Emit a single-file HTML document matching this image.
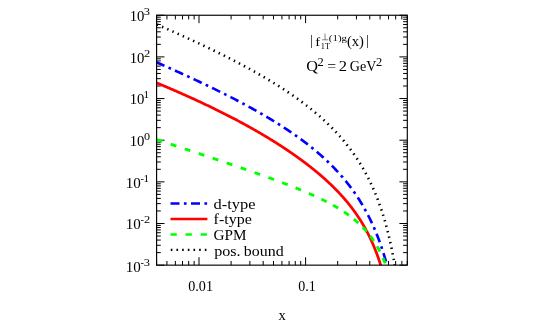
<!DOCTYPE html>
<html><head><meta charset="utf-8"><title>plot</title>
<style>html,body{margin:0;padding:0;background:#fff;}body{width:545px;height:327px;overflow:hidden;font-family:"Liberation Serif",serif;}</style></head>
<body>
<svg width="545" height="327" viewBox="0 0 545 327" style="display:block">
<rect width="545" height="327" fill="#fff"/>
<defs><clipPath id="c"><rect x="156.60" y="15.25" width="250.70" height="249.90"/></clipPath></defs>
<path d="M156.60,265.15v-4.20M156.60,15.25v4.20M166.93,265.15v-4.20M166.93,15.25v4.20M175.37,265.15v-4.20M175.37,15.25v4.20M182.50,265.15v-4.20M182.50,15.25v4.20M188.68,265.15v-4.20M188.68,15.25v4.20M194.14,265.15v-4.20M194.14,15.25v4.20M199.01,265.15v-7.90M199.01,15.25v7.90M231.10,265.15v-4.20M231.10,15.25v4.20M249.87,265.15v-4.20M249.87,15.25v4.20M263.18,265.15v-4.20M263.18,15.25v4.20M273.51,265.15v-4.20M273.51,15.25v4.20M281.95,265.15v-4.20M281.95,15.25v4.20M289.09,265.15v-4.20M289.09,15.25v4.20M295.27,265.15v-4.20M295.27,15.25v4.20M300.72,265.15v-4.20M300.72,15.25v4.20M305.60,265.15v-7.90M305.60,15.25v7.90M337.68,265.15v-4.20M337.68,15.25v4.20M356.45,265.15v-4.20M356.45,15.25v4.20M369.76,265.15v-4.20M369.76,15.25v4.20M380.09,265.15v-4.20M380.09,15.25v4.20M388.53,265.15v-4.20M388.53,15.25v4.20M395.67,265.15v-4.20M395.67,15.25v4.20M401.85,265.15v-4.20M401.85,15.25v4.20M407.30,265.15v-4.20M407.30,15.25v4.20M156.60,265.15h7.90M407.30,265.15h-7.90M156.60,252.61h4.20M407.30,252.61h-4.20M156.60,245.28h4.20M407.30,245.28h-4.20M156.60,240.07h4.20M407.30,240.07h-4.20M156.60,236.04h4.20M407.30,236.04h-4.20M156.60,232.74h4.20M407.30,232.74h-4.20M156.60,229.95h4.20M407.30,229.95h-4.20M156.60,227.54h4.20M407.30,227.54h-4.20M156.60,225.41h4.20M407.30,225.41h-4.20M156.60,223.50h7.90M407.30,223.50h-7.90M156.60,210.96h4.20M407.30,210.96h-4.20M156.60,203.63h4.20M407.30,203.63h-4.20M156.60,198.42h4.20M407.30,198.42h-4.20M156.60,194.39h4.20M407.30,194.39h-4.20M156.60,191.09h4.20M407.30,191.09h-4.20M156.60,188.30h4.20M407.30,188.30h-4.20M156.60,185.89h4.20M407.30,185.89h-4.20M156.60,183.76h4.20M407.30,183.76h-4.20M156.60,181.85h7.90M407.30,181.85h-7.90M156.60,169.31h4.20M407.30,169.31h-4.20M156.60,161.98h4.20M407.30,161.98h-4.20M156.60,156.77h4.20M407.30,156.77h-4.20M156.60,152.74h4.20M407.30,152.74h-4.20M156.60,149.44h4.20M407.30,149.44h-4.20M156.60,146.65h4.20M407.30,146.65h-4.20M156.60,144.24h4.20M407.30,144.24h-4.20M156.60,142.11h4.20M407.30,142.11h-4.20M156.60,140.20h7.90M407.30,140.20h-7.90M156.60,127.66h4.20M407.30,127.66h-4.20M156.60,120.33h4.20M407.30,120.33h-4.20M156.60,115.12h4.20M407.30,115.12h-4.20M156.60,111.09h4.20M407.30,111.09h-4.20M156.60,107.79h4.20M407.30,107.79h-4.20M156.60,105.00h4.20M407.30,105.00h-4.20M156.60,102.59h4.20M407.30,102.59h-4.20M156.60,100.46h4.20M407.30,100.46h-4.20M156.60,98.55h7.90M407.30,98.55h-7.90M156.60,86.01h4.20M407.30,86.01h-4.20M156.60,78.68h4.20M407.30,78.68h-4.20M156.60,73.47h4.20M407.30,73.47h-4.20M156.60,69.44h4.20M407.30,69.44h-4.20M156.60,66.14h4.20M407.30,66.14h-4.20M156.60,63.35h4.20M407.30,63.35h-4.20M156.60,60.94h4.20M407.30,60.94h-4.20M156.60,58.81h4.20M407.30,58.81h-4.20M156.60,56.90h7.90M407.30,56.90h-7.90M156.60,44.36h4.20M407.30,44.36h-4.20M156.60,37.03h4.20M407.30,37.03h-4.20M156.60,31.82h4.20M407.30,31.82h-4.20M156.60,27.79h4.20M407.30,27.79h-4.20M156.60,24.49h4.20M407.30,24.49h-4.20M156.60,21.70h4.20M407.30,21.70h-4.20M156.60,19.29h4.20M407.30,19.29h-4.20M156.60,17.16h4.20M407.30,17.16h-4.20M156.60,15.25h7.90M407.30,15.25h-7.90" stroke="#000" stroke-width="1" fill="none"/>
<g clip-path="url(#c)" fill="none">
<path d="M156.60,24.37 L157.10,24.58 L157.59,24.80 L158.09,25.02 L158.59,25.23 L159.09,25.45 L159.58,25.67 L160.08,25.88 L160.58,26.10 L161.07,26.32 L161.57,26.54 L162.07,26.75 L162.57,26.97 L163.06,27.19 L163.56,27.41 L164.06,27.63 L164.55,27.85 L165.05,28.06 L165.55,28.28 L166.04,28.50 L166.54,28.72 L167.04,28.94 L167.54,29.16 L168.03,29.38 L168.53,29.60 L169.03,29.82 L169.52,30.04 L170.02,30.26 L170.52,30.48 L171.02,30.70 L171.51,30.93 L172.01,31.15 L172.51,31.37 L173.00,31.59 L173.50,31.81 L174.00,32.03 L174.50,32.26 L174.99,32.48 L175.49,32.70 L175.99,32.92 L176.48,33.15 L176.98,33.37 L177.48,33.59 L177.98,33.82 L178.47,34.04 L178.97,34.26 L179.47,34.49 L179.96,34.71 L180.46,34.94 L180.96,35.16 L181.46,35.39 L181.95,35.61 L182.45,35.84 L182.95,36.06 L183.44,36.29 L183.94,36.51 L184.44,36.74 L184.93,36.97 L185.43,37.19 L185.93,37.42 L186.43,37.65 L186.92,37.88 L187.42,38.10 L187.92,38.33 L188.41,38.56 L188.91,38.79 L189.41,39.02 L189.91,39.24 L190.40,39.47 L190.90,39.70 L191.40,39.93 L191.89,40.16 L192.39,40.39 L192.89,40.62 L193.39,40.85 L193.88,41.08 L194.38,41.31 L194.88,41.54 L195.37,41.78 L195.87,42.01 L196.37,42.24 L196.87,42.47 L197.36,42.70 L197.86,42.94 L198.36,43.17 L198.85,43.40 L199.35,43.64 L199.85,43.87 L200.35,44.10 L200.84,44.34 L201.34,44.57 L201.84,44.81 L202.33,45.04 L202.83,45.28 L203.33,45.51 L203.82,45.75 L204.32,45.98 L204.82,46.22 L205.32,46.46 L205.81,46.69 L206.31,46.93 L206.81,47.17 L207.30,47.41 L207.80,47.64 L208.30,47.88 L208.80,48.12 L209.29,48.36 L209.79,48.60 L210.29,48.84 L210.78,49.08 L211.28,49.32 L211.78,49.56 L212.28,49.80 L212.77,50.04 L213.27,50.28 L213.77,50.53 L214.26,50.77 L214.76,51.01 L215.26,51.25 L215.76,51.50 L216.25,51.74 L216.75,51.98 L217.25,52.23 L217.74,52.47 L218.24,52.72 L218.74,52.96 L219.23,53.21 L219.73,53.45 L220.23,53.70 L220.73,53.95 L221.22,54.19 L221.72,54.44 L222.22,54.69 L222.71,54.94 L223.21,55.19 L223.71,55.43 L224.21,55.68 L224.70,55.93 L225.20,56.18 L225.70,56.43 L226.19,56.68 L226.69,56.94 L227.19,57.19 L227.69,57.44 L228.18,57.69 L228.68,57.94 L229.18,58.20 L229.67,58.45 L230.17,58.70 L230.67,58.96 L231.17,59.21 L231.66,59.47 L232.16,59.72 L232.66,59.98 L233.15,60.24 L233.65,60.49 L234.15,60.75 L234.65,61.01 L235.14,61.27 L235.64,61.53 L236.14,61.78 L236.63,62.04 L237.13,62.30 L237.63,62.56 L238.12,62.83 L238.62,63.09 L239.12,63.35 L239.62,63.61 L240.11,63.87 L240.61,64.14 L241.11,64.40 L241.60,64.67 L242.10,64.93 L242.60,65.20 L243.10,65.46 L243.59,65.73 L244.09,65.99 L244.59,66.26 L245.08,66.53 L245.58,66.80 L246.08,67.07 L246.58,67.34 L247.07,67.61 L247.57,67.88 L248.07,68.15 L248.56,68.42 L249.06,68.69 L249.56,68.96 L250.06,69.24 L250.55,69.51 L251.05,69.78 L251.55,70.06 L252.04,70.33 L252.54,70.61 L253.04,70.89 L253.54,71.16 L254.03,71.44 L254.53,71.72 L255.03,72.00 L255.52,72.28 L256.02,72.56 L256.52,72.84 L257.01,73.12 L257.51,73.40 L258.01,73.69 L258.51,73.97 L259.00,74.25 L259.50,74.54 L260.00,74.82 L260.49,75.11 L260.99,75.40 L261.49,75.69 L261.99,75.97 L262.48,76.26 L262.98,76.55 L263.48,76.84 L263.97,77.13 L264.47,77.42 L264.97,77.72 L265.47,78.01 L265.96,78.30 L266.46,78.60 L266.96,78.89 L267.45,79.19 L267.95,79.49 L268.45,79.78 L268.95,80.08 L269.44,80.38 L269.94,80.68 L270.44,80.98 L270.93,81.28 L271.43,81.59 L271.93,81.89 L272.42,82.19 L272.92,82.50 L273.42,82.80 L273.92,83.11 L274.41,83.42 L274.91,83.72 L275.41,84.03 L275.90,84.34 L276.40,84.65 L276.90,84.97 L277.40,85.28 L277.89,85.59 L278.39,85.91 L278.89,86.22 L279.38,86.54 L279.88,86.85 L280.38,87.17 L280.88,87.49 L281.37,87.81 L281.87,88.13 L282.37,88.45 L282.86,88.78 L283.36,89.10 L283.86,89.43 L284.36,89.75 L284.85,90.08 L285.35,90.41 L285.85,90.74 L286.34,91.07 L286.84,91.40 L287.34,91.73 L287.84,92.06 L288.33,92.40 L288.83,92.73 L289.33,93.07 L289.82,93.41 L290.32,93.75 L290.82,94.09 L291.31,94.43 L291.81,94.77 L292.31,95.12 L292.81,95.46 L293.30,95.81 L293.80,96.16 L294.30,96.50 L294.79,96.85 L295.29,97.21 L295.79,97.56 L296.29,97.91 L296.78,98.27 L297.28,98.62 L297.78,98.98 L298.27,99.34 L298.77,99.70 L299.27,100.06 L299.77,100.43 L300.26,100.79 L300.76,101.16 L301.26,101.53 L301.75,101.90 L302.25,102.27 L302.75,102.64 L303.25,103.01 L303.74,103.39 L304.24,103.76 L304.74,104.14 L305.23,104.52 L305.73,104.90 L306.23,105.29 L306.73,105.67 L307.22,106.06 L307.72,106.45 L308.22,106.84 L308.71,107.23 L309.21,107.62 L309.71,108.02 L310.20,108.41 L310.70,108.81 L311.20,109.21 L311.70,109.61 L312.19,110.02 L312.69,110.42 L313.19,110.83 L313.68,111.24 L314.18,111.65 L314.68,112.07 L315.18,112.48 L315.67,112.90 L316.17,113.32 L316.67,113.74 L317.16,114.17 L317.66,114.59 L318.16,115.02 L318.66,115.45 L319.15,115.88 L319.65,116.32 L320.15,116.76 L320.64,117.20 L321.14,117.64 L321.64,118.08 L322.14,118.53 L322.63,118.98 L323.13,119.43 L323.63,119.88 L324.12,120.34 L324.62,120.80 L325.12,121.26 L325.61,121.73 L326.11,122.19 L326.61,122.66 L327.11,123.13 L327.60,123.61 L328.10,124.09 L328.60,124.57 L329.09,125.05 L329.59,125.54 L330.09,126.03 L330.59,126.52 L331.08,127.02 L331.58,127.52 L332.08,128.02 L332.57,128.52 L333.07,129.03 L333.57,129.54 L334.07,130.06 L334.56,130.58 L335.06,131.10 L335.56,131.62 L336.05,132.15 L336.55,132.69 L337.05,133.22 L337.55,133.76 L338.04,134.31 L338.54,134.85 L339.04,135.41 L339.53,135.96 L340.03,136.52 L340.53,137.09 L341.03,137.65 L341.52,138.23 L342.02,138.80 L342.52,139.38 L343.01,139.97 L343.51,140.56 L344.01,141.15 L344.50,141.75 L345.00,142.36 L345.50,142.96 L346.00,143.58 L346.49,144.20 L346.99,144.82 L347.49,145.45 L347.98,146.08 L348.48,146.72 L348.98,147.37 L349.48,148.02 L349.97,148.68 L350.47,149.34 L350.97,150.01 L351.46,150.68 L351.96,151.36 L352.46,152.05 L352.96,152.74 L353.45,153.44 L353.95,154.15 L354.45,154.86 L354.94,155.58 L355.44,156.31 L355.94,157.05 L356.44,157.79 L356.93,158.54 L357.43,159.29 L357.93,160.06 L358.42,160.83 L358.92,161.61 L359.42,162.40 L359.92,163.20 L360.41,164.01 L360.91,164.82 L361.41,165.65 L361.90,166.48 L362.40,167.32 L362.90,168.18 L363.39,169.04 L363.89,169.91 L364.39,170.80 L364.89,171.69 L365.38,172.60 L365.88,173.51 L366.38,174.44 L366.87,175.38 L367.37,176.34 L367.87,177.30 L368.37,178.28 L368.86,179.27 L369.36,180.27 L369.86,181.29 L370.35,182.32 L370.85,183.37 L371.35,184.43 L371.85,185.50 L372.34,186.59 L372.84,187.70 L373.34,188.83 L373.83,189.97 L374.33,191.13 L374.83,192.31 L375.33,193.50 L375.82,194.72 L376.32,195.95 L376.82,197.21 L377.31,198.48 L377.81,199.78 L378.31,201.10 L378.80,202.45 L379.30,203.82 L379.80,205.21 L380.30,206.63 L380.79,208.07 L381.29,209.54 L381.79,211.04 L382.28,212.57 L382.78,214.13 L383.28,215.72 L383.78,217.35 L384.27,219.01 L384.77,220.70 L385.27,222.43 L385.76,224.20 L386.26,226.01 L386.76,227.86 L387.26,229.75 L387.75,231.69 L388.25,233.68 L388.75,235.71 L389.24,237.80 L389.74,239.93 L390.24,242.13 L390.74,244.39 L391.23,246.70 L391.73,249.08 L392.23,251.53 L392.72,254.06 L393.22,256.66 L393.72,259.34 L394.22,262.10 L394.71,264.95 L395.21,267.90 L395.71,270.95 L396.20,274.11 L396.70,277.38" stroke="#000" stroke-width="2.6" stroke-dasharray="1.4 4.27" stroke-dashoffset="5.42"/>
<path d="M156.60,62.32 L157.10,62.54 L157.59,62.76 L158.09,62.98 L158.59,63.20 L159.09,63.42 L159.58,63.64 L160.08,63.86 L160.58,64.08 L161.07,64.30 L161.57,64.52 L162.07,64.74 L162.57,64.96 L163.06,65.18 L163.56,65.40 L164.06,65.62 L164.55,65.84 L165.05,66.06 L165.55,66.29 L166.04,66.51 L166.54,66.73 L167.04,66.95 L167.54,67.17 L168.03,67.39 L168.53,67.62 L169.03,67.84 L169.52,68.06 L170.02,68.28 L170.52,68.51 L171.02,68.73 L171.51,68.95 L172.01,69.18 L172.51,69.40 L173.00,69.62 L173.50,69.85 L174.00,70.07 L174.50,70.30 L174.99,70.52 L175.49,70.75 L175.99,70.97 L176.48,71.20 L176.98,71.42 L177.48,71.65 L177.98,71.87 L178.47,72.10 L178.97,72.32 L179.47,72.55 L179.96,72.78 L180.46,73.00 L180.96,73.23 L181.46,73.46 L181.95,73.68 L182.45,73.91 L182.95,74.14 L183.44,74.36 L183.94,74.59 L184.44,74.82 L184.93,75.05 L185.43,75.28 L185.93,75.51 L186.43,75.73 L186.92,75.96 L187.42,76.19 L187.92,76.42 L188.41,76.65 L188.91,76.88 L189.41,77.11 L189.91,77.34 L190.40,77.57 L190.90,77.80 L191.40,78.03 L191.89,78.26 L192.39,78.50 L192.89,78.73 L193.39,78.96 L193.88,79.19 L194.38,79.42 L194.88,79.66 L195.37,79.89 L195.87,80.12 L196.37,80.35 L196.87,80.59 L197.36,80.82 L197.86,81.06 L198.36,81.29 L198.85,81.52 L199.35,81.76 L199.85,81.99 L200.35,82.23 L200.84,82.46 L201.34,82.70 L201.84,82.94 L202.33,83.17 L202.83,83.41 L203.33,83.64 L203.82,83.88 L204.32,84.12 L204.82,84.36 L205.32,84.59 L205.81,84.83 L206.31,85.07 L206.81,85.31 L207.30,85.55 L207.80,85.79 L208.30,86.03 L208.80,86.26 L209.29,86.50 L209.79,86.74 L210.29,86.99 L210.78,87.23 L211.28,87.47 L211.78,87.71 L212.28,87.95 L212.77,88.19 L213.27,88.43 L213.77,88.68 L214.26,88.92 L214.76,89.16 L215.26,89.41 L215.76,89.65 L216.25,89.89 L216.75,90.14 L217.25,90.38 L217.74,90.63 L218.24,90.87 L218.74,91.12 L219.23,91.37 L219.73,91.61 L220.23,91.86 L220.73,92.11 L221.22,92.35 L221.72,92.60 L222.22,92.85 L222.71,93.10 L223.21,93.35 L223.71,93.60 L224.21,93.85 L224.70,94.09 L225.20,94.35 L225.70,94.60 L226.19,94.85 L226.69,95.10 L227.19,95.35 L227.69,95.60 L228.18,95.85 L228.68,96.11 L229.18,96.36 L229.67,96.61 L230.17,96.87 L230.67,97.12 L231.17,97.38 L231.66,97.63 L232.16,97.89 L232.66,98.14 L233.15,98.40 L233.65,98.66 L234.15,98.91 L234.65,99.17 L235.14,99.43 L235.64,99.69 L236.14,99.95 L236.63,100.21 L237.13,100.47 L237.63,100.73 L238.12,100.99 L238.62,101.25 L239.12,101.51 L239.62,101.77 L240.11,102.03 L240.61,102.30 L241.11,102.56 L241.60,102.83 L242.10,103.09 L242.60,103.35 L243.10,103.62 L243.59,103.89 L244.09,104.15 L244.59,104.42 L245.08,104.69 L245.58,104.95 L246.08,105.22 L246.58,105.49 L247.07,105.76 L247.57,106.03 L248.07,106.30 L248.56,106.57 L249.06,106.84 L249.56,107.12 L250.06,107.39 L250.55,107.66 L251.05,107.93 L251.55,108.21 L252.04,108.48 L252.54,108.76 L253.04,109.03 L253.54,109.31 L254.03,109.59 L254.53,109.87 L255.03,110.14 L255.52,110.42 L256.02,110.70 L256.52,110.98 L257.01,111.26 L257.51,111.54 L258.01,111.83 L258.51,112.11 L259.00,112.39 L259.50,112.68 L260.00,112.96 L260.49,113.24 L260.99,113.53 L261.49,113.82 L261.99,114.10 L262.48,114.39 L262.98,114.68 L263.48,114.97 L263.97,115.26 L264.47,115.55 L264.97,115.84 L265.47,116.13 L265.96,116.43 L266.46,116.72 L266.96,117.01 L267.45,117.31 L267.95,117.60 L268.45,117.90 L268.95,118.20 L269.44,118.49 L269.94,118.79 L270.44,119.09 L270.93,119.39 L271.43,119.69 L271.93,119.99 L272.42,120.30 L272.92,120.60 L273.42,120.90 L273.92,121.21 L274.41,121.52 L274.91,121.82 L275.41,122.13 L275.90,122.44 L276.40,122.75 L276.90,123.06 L277.40,123.37 L277.89,123.68 L278.39,123.99 L278.89,124.31 L279.38,124.62 L279.88,124.94 L280.38,125.25 L280.88,125.57 L281.37,125.89 L281.87,126.21 L282.37,126.53 L282.86,126.85 L283.36,127.17 L283.86,127.50 L284.36,127.82 L284.85,128.15 L285.35,128.47 L285.85,128.80 L286.34,129.13 L286.84,129.46 L287.34,129.79 L287.84,130.12 L288.33,130.45 L288.83,130.79 L289.33,131.12 L289.82,131.46 L290.32,131.79 L290.82,132.13 L291.31,132.47 L291.81,132.81 L292.31,133.16 L292.81,133.50 L293.30,133.84 L293.80,134.19 L294.30,134.54 L294.79,134.88 L295.29,135.23 L295.79,135.58 L296.29,135.94 L296.78,136.29 L297.28,136.64 L297.78,137.00 L298.27,137.36 L298.77,137.72 L299.27,138.08 L299.77,138.44 L300.26,138.80 L300.76,139.17 L301.26,139.53 L301.75,139.90 L302.25,140.27 L302.75,140.64 L303.25,141.01 L303.74,141.38 L304.24,141.76 L304.74,142.13 L305.23,142.51 L305.73,142.89 L306.23,143.27 L306.73,143.65 L307.22,144.04 L307.72,144.43 L308.22,144.81 L308.71,145.20 L309.21,145.59 L309.71,145.99 L310.20,146.38 L310.70,146.78 L311.20,147.18 L311.70,147.58 L312.19,147.98 L312.69,148.38 L313.19,148.79 L313.68,149.20 L314.18,149.61 L314.68,150.02 L315.18,150.43 L315.67,150.85 L316.17,151.27 L316.67,151.69 L317.16,152.11 L317.66,152.53 L318.16,152.96 L318.66,153.39 L319.15,153.82 L319.65,154.25 L320.15,154.68 L320.64,155.12 L321.14,155.56 L321.64,156.00 L322.14,156.45 L322.63,156.90 L323.13,157.34 L323.63,157.80 L324.12,158.25 L324.62,158.71 L325.12,159.17 L325.61,159.63 L326.11,160.09 L326.61,160.56 L327.11,161.03 L327.60,161.50 L328.10,161.98 L328.60,162.46 L329.09,162.94 L329.59,163.43 L330.09,163.91 L330.59,164.40 L331.08,164.90 L331.58,165.39 L332.08,165.89 L332.57,166.40 L333.07,166.90 L333.57,167.41 L334.07,167.92 L334.56,168.44 L335.06,168.96 L335.56,169.48 L336.05,170.01 L336.55,170.54 L337.05,171.07 L337.55,171.61 L338.04,172.15 L338.54,172.70 L339.04,173.25 L339.53,173.80 L340.03,174.36 L340.53,174.92 L341.03,175.48 L341.52,176.05 L342.02,176.63 L342.52,177.20 L343.01,177.79 L343.51,178.37 L344.01,178.97 L344.50,179.56 L345.00,180.16 L345.50,180.77 L346.00,181.38 L346.49,181.99 L346.99,182.62 L347.49,183.24 L347.98,183.87 L348.48,184.51 L348.98,185.15 L349.48,185.80 L349.97,186.45 L350.47,187.11 L350.97,187.77 L351.46,188.44 L351.96,189.12 L352.46,189.80 L352.96,190.49 L353.45,191.19 L353.95,191.89 L354.45,192.60 L354.94,193.31 L355.44,194.04 L355.94,194.76 L356.44,195.50 L356.93,196.24 L357.43,197.00 L357.93,197.76 L358.42,198.52 L358.92,199.30 L359.42,200.08 L359.92,200.87 L360.41,201.67 L360.91,202.48 L361.41,203.30 L361.90,204.12 L362.40,204.96 L362.90,205.80 L363.39,206.66 L363.89,207.52 L364.39,208.40 L364.89,209.28 L365.38,210.18 L365.88,211.09 L366.38,212.01 L366.87,212.94 L367.37,213.88 L367.87,214.83 L368.37,215.80 L368.86,216.77 L369.36,217.76 L369.86,218.77 L370.35,219.79 L370.85,220.82 L371.35,221.86 L371.85,222.93 L372.34,224.00 L372.84,225.09 L373.34,226.20 L373.83,227.32 L374.33,228.46 L374.83,229.62 L375.33,230.80 L375.82,231.99 L376.32,233.21 L376.82,234.44 L377.31,235.69 L377.81,236.97 L378.31,238.26 L378.80,239.58 L379.30,240.92 L379.80,242.28 L380.30,243.67 L380.79,245.08 L381.29,246.52 L381.79,247.99 L382.28,249.48 L382.78,251.01 L383.28,252.56 L383.78,254.14 L384.27,255.76 L384.77,257.41 L385.27,259.09 L385.76,260.81 L386.26,262.57 L386.76,264.37 L387.26,266.21 L387.75,268.09 L388.25,270.01 L388.75,271.99 L389.24,274.01 L389.74,276.08" stroke="#00f" stroke-width="2.65" stroke-dasharray="9 4.4 2.7 4.4" stroke-dashoffset="0.4"/>
<path d="M156.60,82.84 L157.10,83.05 L157.59,83.25 L158.09,83.46 L158.59,83.67 L159.09,83.88 L159.58,84.08 L160.08,84.29 L160.58,84.50 L161.07,84.71 L161.57,84.92 L162.07,85.13 L162.57,85.34 L163.06,85.55 L163.56,85.76 L164.06,85.97 L164.55,86.18 L165.05,86.39 L165.55,86.60 L166.04,86.81 L166.54,87.03 L167.04,87.24 L167.54,87.45 L168.03,87.66 L168.53,87.88 L169.03,88.09 L169.52,88.30 L170.02,88.52 L170.52,88.73 L171.02,88.94 L171.51,89.16 L172.01,89.37 L172.51,89.59 L173.00,89.80 L173.50,90.02 L174.00,90.23 L174.50,90.45 L174.99,90.66 L175.49,90.88 L175.99,91.10 L176.48,91.31 L176.98,91.53 L177.48,91.75 L177.98,91.97 L178.47,92.18 L178.97,92.40 L179.47,92.62 L179.96,92.84 L180.46,93.06 L180.96,93.28 L181.46,93.50 L181.95,93.72 L182.45,93.94 L182.95,94.16 L183.44,94.38 L183.94,94.60 L184.44,94.82 L184.93,95.04 L185.43,95.27 L185.93,95.49 L186.43,95.71 L186.92,95.93 L187.42,96.16 L187.92,96.38 L188.41,96.61 L188.91,96.83 L189.41,97.05 L189.91,97.28 L190.40,97.50 L190.90,97.73 L191.40,97.96 L191.89,98.18 L192.39,98.41 L192.89,98.63 L193.39,98.86 L193.88,99.09 L194.38,99.32 L194.88,99.54 L195.37,99.77 L195.87,100.00 L196.37,100.23 L196.87,100.46 L197.36,100.69 L197.86,100.92 L198.36,101.15 L198.85,101.38 L199.35,101.61 L199.85,101.84 L200.35,102.08 L200.84,102.31 L201.34,102.54 L201.84,102.77 L202.33,103.01 L202.83,103.24 L203.33,103.47 L203.82,103.71 L204.32,103.94 L204.82,104.18 L205.32,104.41 L205.81,104.65 L206.31,104.88 L206.81,105.12 L207.30,105.36 L207.80,105.60 L208.30,105.83 L208.80,106.07 L209.29,106.31 L209.79,106.55 L210.29,106.79 L210.78,107.03 L211.28,107.27 L211.78,107.51 L212.28,107.75 L212.77,107.99 L213.27,108.23 L213.77,108.47 L214.26,108.71 L214.76,108.96 L215.26,109.20 L215.76,109.44 L216.25,109.69 L216.75,109.93 L217.25,110.18 L217.74,110.42 L218.24,110.67 L218.74,110.91 L219.23,111.16 L219.73,111.41 L220.23,111.65 L220.73,111.90 L221.22,112.15 L221.72,112.40 L222.22,112.65 L222.71,112.90 L223.21,113.15 L223.71,113.40 L224.21,113.65 L224.70,113.90 L225.20,114.15 L225.70,114.40 L226.19,114.66 L226.69,114.91 L227.19,115.16 L227.69,115.42 L228.18,115.67 L228.68,115.93 L229.18,116.18 L229.67,116.44 L230.17,116.69 L230.67,116.95 L231.17,117.21 L231.66,117.47 L232.16,117.72 L232.66,117.98 L233.15,118.24 L233.65,118.50 L234.15,118.76 L234.65,119.02 L235.14,119.28 L235.64,119.55 L236.14,119.81 L236.63,120.07 L237.13,120.33 L237.63,120.60 L238.12,120.86 L238.62,121.13 L239.12,121.39 L239.62,121.66 L240.11,121.92 L240.61,122.19 L241.11,122.46 L241.60,122.73 L242.10,123.00 L242.60,123.26 L243.10,123.53 L243.59,123.80 L244.09,124.08 L244.59,124.35 L245.08,124.62 L245.58,124.89 L246.08,125.16 L246.58,125.44 L247.07,125.71 L247.57,125.99 L248.07,126.26 L248.56,126.54 L249.06,126.81 L249.56,127.09 L250.06,127.37 L250.55,127.65 L251.05,127.93 L251.55,128.21 L252.04,128.49 L252.54,128.77 L253.04,129.05 L253.54,129.33 L254.03,129.61 L254.53,129.89 L255.03,130.18 L255.52,130.46 L256.02,130.75 L256.52,131.03 L257.01,131.32 L257.51,131.61 L258.01,131.89 L258.51,132.18 L259.00,132.47 L259.50,132.76 L260.00,133.05 L260.49,133.34 L260.99,133.63 L261.49,133.93 L261.99,134.22 L262.48,134.51 L262.98,134.81 L263.48,135.10 L263.97,135.40 L264.47,135.69 L264.97,135.99 L265.47,136.29 L265.96,136.59 L266.46,136.89 L266.96,137.19 L267.45,137.49 L267.95,137.79 L268.45,138.09 L268.95,138.39 L269.44,138.70 L269.94,139.00 L270.44,139.31 L270.93,139.61 L271.43,139.92 L271.93,140.23 L272.42,140.53 L272.92,140.84 L273.42,141.15 L273.92,141.46 L274.41,141.77 L274.91,142.09 L275.41,142.40 L275.90,142.71 L276.40,143.03 L276.90,143.34 L277.40,143.66 L277.89,143.98 L278.39,144.30 L278.89,144.61 L279.38,144.93 L279.88,145.25 L280.38,145.58 L280.88,145.90 L281.37,146.22 L281.87,146.55 L282.37,146.87 L282.86,147.20 L283.36,147.52 L283.86,147.85 L284.36,148.18 L284.85,148.51 L285.35,148.84 L285.85,149.17 L286.34,149.50 L286.84,149.84 L287.34,150.17 L287.84,150.51 L288.33,150.84 L288.83,151.18 L289.33,151.52 L289.82,151.86 L290.32,152.20 L290.82,152.54 L291.31,152.88 L291.81,153.23 L292.31,153.57 L292.81,153.92 L293.30,154.26 L293.80,154.61 L294.30,154.96 L294.79,155.31 L295.29,155.66 L295.79,156.01 L296.29,156.37 L296.78,156.72 L297.28,157.08 L297.78,157.43 L298.27,157.79 L298.77,158.15 L299.27,158.51 L299.77,158.87 L300.26,159.23 L300.76,159.60 L301.26,159.96 L301.75,160.33 L302.25,160.70 L302.75,161.07 L303.25,161.44 L303.74,161.81 L304.24,162.18 L304.74,162.56 L305.23,162.93 L305.73,163.31 L306.23,163.69 L306.73,164.07 L307.22,164.45 L307.72,164.83 L308.22,165.22 L308.71,165.60 L309.21,165.99 L309.71,166.38 L310.20,166.77 L310.70,167.16 L311.20,167.55 L311.70,167.95 L312.19,168.34 L312.69,168.74 L313.19,169.14 L313.68,169.54 L314.18,169.95 L314.68,170.35 L315.18,170.76 L315.67,171.17 L316.17,171.58 L316.67,171.99 L317.16,172.40 L317.66,172.82 L318.16,173.23 L318.66,173.65 L319.15,174.07 L319.65,174.50 L320.15,174.92 L320.64,175.35 L321.14,175.78 L321.64,176.21 L322.14,176.64 L322.63,177.07 L323.13,177.51 L323.63,177.95 L324.12,178.39 L324.62,178.84 L325.12,179.28 L325.61,179.73 L326.11,180.18 L326.61,180.63 L327.11,181.09 L327.60,181.55 L328.10,182.01 L328.60,182.47 L329.09,182.93 L329.59,183.40 L330.09,183.87 L330.59,184.35 L331.08,184.82 L331.58,185.30 L332.08,185.78 L332.57,186.27 L333.07,186.75 L333.57,187.24 L334.07,187.74 L334.56,188.23 L335.06,188.73 L335.56,189.24 L336.05,189.74 L336.55,190.25 L337.05,190.76 L337.55,191.28 L338.04,191.80 L338.54,192.32 L339.04,192.85 L339.53,193.38 L340.03,193.91 L340.53,194.45 L341.03,194.99 L341.52,195.54 L342.02,196.09 L342.52,196.64 L343.01,197.20 L343.51,197.76 L344.01,198.33 L344.50,198.90 L345.00,199.48 L345.50,200.06 L346.00,200.65 L346.49,201.24 L346.99,201.83 L347.49,202.43 L347.98,203.04 L348.48,203.65 L348.98,204.27 L349.48,204.89 L349.97,205.52 L350.47,206.15 L350.97,206.79 L351.46,207.44 L351.96,208.09 L352.46,208.75 L352.96,209.41 L353.45,210.08 L353.95,210.76 L354.45,211.45 L354.94,212.14 L355.44,212.84 L355.94,213.55 L356.44,214.27 L356.93,214.99 L357.43,215.72 L357.93,216.46 L358.42,217.21 L358.92,217.97 L359.42,218.73 L359.92,219.51 L360.41,220.29 L360.91,221.09 L361.41,221.89 L361.90,222.71 L362.40,223.54 L362.90,224.37 L363.39,225.22 L363.89,226.08 L364.39,226.95 L364.89,227.83 L365.38,228.73 L365.88,229.64 L366.38,230.56 L366.87,231.49 L367.37,232.44 L367.87,233.41 L368.37,234.39 L368.86,235.38 L369.36,236.39 L369.86,237.42 L370.35,238.46 L370.85,239.52 L371.35,240.60 L371.85,241.69 L372.34,242.81 L372.84,243.94 L373.34,245.10 L373.83,246.28 L374.33,247.47 L374.83,248.69 L375.33,249.94 L375.82,251.21 L376.32,252.50 L376.82,253.82 L377.31,255.16 L377.81,256.53 L378.31,257.94 L378.80,259.37 L379.30,260.83 L379.80,262.32 L380.30,263.85 L380.79,265.41 L381.29,267.01 L381.79,268.64 L382.28,270.31 L382.78,272.03 L383.28,273.78 L383.78,275.58 L384.27,277.43" stroke="#f00" stroke-width="2.75"/>
<path d="M156.60,139.54 L157.10,139.70 L157.59,139.87 L158.09,140.03 L158.59,140.19 L159.09,140.36 L159.58,140.52 L160.08,140.69 L160.58,140.85 L161.07,141.01 L161.57,141.18 L162.07,141.34 L162.57,141.51 L163.06,141.67 L163.56,141.83 L164.06,142.00 L164.55,142.16 L165.05,142.33 L165.55,142.49 L166.04,142.65 L166.54,142.82 L167.04,142.98 L167.54,143.15 L168.03,143.31 L168.53,143.48 L169.03,143.64 L169.52,143.80 L170.02,143.97 L170.52,144.13 L171.02,144.30 L171.51,144.46 L172.01,144.63 L172.51,144.79 L173.00,144.95 L173.50,145.12 L174.00,145.28 L174.50,145.45 L174.99,145.61 L175.49,145.78 L175.99,145.94 L176.48,146.11 L176.98,146.27 L177.48,146.44 L177.98,146.60 L178.47,146.76 L178.97,146.93 L179.47,147.09 L179.96,147.26 L180.46,147.42 L180.96,147.59 L181.46,147.75 L181.95,147.92 L182.45,148.08 L182.95,148.25 L183.44,148.41 L183.94,148.58 L184.44,148.74 L184.93,148.91 L185.43,149.07 L185.93,149.24 L186.43,149.40 L186.92,149.57 L187.42,149.73 L187.92,149.90 L188.41,150.06 L188.91,150.23 L189.41,150.39 L189.91,150.56 L190.40,150.73 L190.90,150.89 L191.40,151.06 L191.89,151.22 L192.39,151.39 L192.89,151.55 L193.39,151.72 L193.88,151.88 L194.38,152.05 L194.88,152.22 L195.37,152.38 L195.87,152.55 L196.37,152.71 L196.87,152.88 L197.36,153.04 L197.86,153.21 L198.36,153.38 L198.85,153.54 L199.35,153.71 L199.85,153.87 L200.35,154.04 L200.84,154.21 L201.34,154.37 L201.84,154.54 L202.33,154.71 L202.83,154.87 L203.33,155.04 L203.82,155.20 L204.32,155.37 L204.82,155.54 L205.32,155.70 L205.81,155.87 L206.31,156.04 L206.81,156.20 L207.30,156.37 L207.80,156.54 L208.30,156.70 L208.80,156.87 L209.29,157.04 L209.79,157.20 L210.29,157.37 L210.78,157.54 L211.28,157.71 L211.78,157.87 L212.28,158.04 L212.77,158.21 L213.27,158.38 L213.77,158.54 L214.26,158.71 L214.76,158.88 L215.26,159.05 L215.76,159.21 L216.25,159.38 L216.75,159.55 L217.25,159.72 L217.74,159.88 L218.24,160.05 L218.74,160.22 L219.23,160.39 L219.73,160.56 L220.23,160.73 L220.73,160.89 L221.22,161.06 L221.72,161.23 L222.22,161.40 L222.71,161.57 L223.21,161.74 L223.71,161.90 L224.21,162.07 L224.70,162.24 L225.20,162.41 L225.70,162.58 L226.19,162.75 L226.69,162.92 L227.19,163.09 L227.69,163.26 L228.18,163.43 L228.68,163.60 L229.18,163.77 L229.67,163.94 L230.17,164.10 L230.67,164.27 L231.17,164.44 L231.66,164.61 L232.16,164.78 L232.66,164.95 L233.15,165.13 L233.65,165.30 L234.15,165.47 L234.65,165.64 L235.14,165.81 L235.64,165.98 L236.14,166.15 L236.63,166.32 L237.13,166.49 L237.63,166.66 L238.12,166.83 L238.62,167.00 L239.12,167.18 L239.62,167.35 L240.11,167.52 L240.61,167.69 L241.11,167.86 L241.60,168.03 L242.10,168.21 L242.60,168.38 L243.10,168.55 L243.59,168.72 L244.09,168.90 L244.59,169.07 L245.08,169.24 L245.58,169.41 L246.08,169.59 L246.58,169.76 L247.07,169.93 L247.57,170.11 L248.07,170.28 L248.56,170.46 L249.06,170.63 L249.56,170.80 L250.06,170.98 L250.55,171.15 L251.05,171.33 L251.55,171.50 L252.04,171.67 L252.54,171.85 L253.04,172.02 L253.54,172.20 L254.03,172.37 L254.53,172.55 L255.03,172.73 L255.52,172.90 L256.02,173.08 L256.52,173.25 L257.01,173.43 L257.51,173.61 L258.01,173.78 L258.51,173.96 L259.00,174.14 L259.50,174.31 L260.00,174.49 L260.49,174.67 L260.99,174.85 L261.49,175.02 L261.99,175.20 L262.48,175.38 L262.98,175.56 L263.48,175.74 L263.97,175.92 L264.47,176.10 L264.97,176.27 L265.47,176.45 L265.96,176.63 L266.46,176.81 L266.96,176.99 L267.45,177.17 L267.95,177.35 L268.45,177.53 L268.95,177.72 L269.44,177.90 L269.94,178.08 L270.44,178.26 L270.93,178.44 L271.43,178.62 L271.93,178.81 L272.42,178.99 L272.92,179.17 L273.42,179.36 L273.92,179.54 L274.41,179.72 L274.91,179.91 L275.41,180.09 L275.90,180.28 L276.40,180.46 L276.90,180.65 L277.40,180.83 L277.89,181.02 L278.39,181.20 L278.89,181.39 L279.38,181.57 L279.88,181.76 L280.38,181.95 L280.88,182.14 L281.37,182.32 L281.87,182.51 L282.37,182.70 L282.86,182.89 L283.36,183.08 L283.86,183.27 L284.36,183.46 L284.85,183.65 L285.35,183.84 L285.85,184.03 L286.34,184.22 L286.84,184.41 L287.34,184.61 L287.84,184.80 L288.33,184.99 L288.83,185.18 L289.33,185.38 L289.82,185.57 L290.32,185.77 L290.82,185.96 L291.31,186.16 L291.81,186.35 L292.31,186.55 L292.81,186.75 L293.30,186.94 L293.80,187.14 L294.30,187.34 L294.79,187.54 L295.29,187.74 L295.79,187.94 L296.29,188.14 L296.78,188.34 L297.28,188.54 L297.78,188.74 L298.27,188.94 L298.77,189.15 L299.27,189.35 L299.77,189.55 L300.26,189.76 L300.76,189.96 L301.26,190.17 L301.75,190.38 L302.25,190.58 L302.75,190.79 L303.25,191.00 L303.74,191.21 L304.24,191.42 L304.74,191.63 L305.23,191.84 L305.73,192.05 L306.23,192.26 L306.73,192.48 L307.22,192.69 L307.72,192.90 L308.22,193.12 L308.71,193.34 L309.21,193.55 L309.71,193.77 L310.20,193.99 L310.70,194.21 L311.20,194.43 L311.70,194.65 L312.19,194.87 L312.69,195.09 L313.19,195.32 L313.68,195.54 L314.18,195.77 L314.68,195.99 L315.18,196.22 L315.67,196.45 L316.17,196.68 L316.67,196.91 L317.16,197.14 L317.66,197.37 L318.16,197.60 L318.66,197.84 L319.15,198.07 L319.65,198.31 L320.15,198.55 L320.64,198.79 L321.14,199.03 L321.64,199.27 L322.14,199.51 L322.63,199.76 L323.13,200.00 L323.63,200.25 L324.12,200.50 L324.62,200.74 L325.12,201.00 L325.61,201.25 L326.11,201.50 L326.61,201.75 L327.11,202.01 L327.60,202.27 L328.10,202.53 L328.60,202.79 L329.09,203.05 L329.59,203.32 L330.09,203.58 L330.59,203.85 L331.08,204.12 L331.58,204.39 L332.08,204.66 L332.57,204.94 L333.07,205.21 L333.57,205.49 L334.07,205.77 L334.56,206.05 L335.06,206.34 L335.56,206.62 L336.05,206.91 L336.55,207.20 L337.05,207.50 L337.55,207.79 L338.04,208.09 L338.54,208.39 L339.04,208.69 L339.53,208.99 L340.03,209.30 L340.53,209.61 L341.03,209.92 L341.52,210.24 L342.02,210.55 L342.52,210.87 L343.01,211.20 L343.51,211.52 L344.01,211.85 L344.50,212.18 L345.00,212.52 L345.50,212.86 L346.00,213.20 L346.49,213.54 L346.99,213.89 L347.49,214.24 L347.98,214.60 L348.48,214.96 L348.98,215.32 L349.48,215.69 L349.97,216.06 L350.47,216.43 L350.97,216.81 L351.46,217.19 L351.96,217.58 L352.46,217.97 L352.96,218.36 L353.45,218.76 L353.95,219.17 L354.45,219.58 L354.94,219.99 L355.44,220.41 L355.94,220.83 L356.44,221.26 L356.93,221.70 L357.43,222.14 L357.93,222.59 L358.42,223.04 L358.92,223.50 L359.42,223.96 L359.92,224.43 L360.41,224.91 L360.91,225.39 L361.41,225.88 L361.90,226.38 L362.40,226.89 L362.90,227.40 L363.39,227.92 L363.89,228.45 L364.39,228.98 L364.89,229.53 L365.38,230.08 L365.88,230.64 L366.38,231.21 L366.87,231.79 L367.37,232.38 L367.87,232.98 L368.37,233.59 L368.86,234.21 L369.36,234.84 L369.86,235.48 L370.35,236.13 L370.85,236.79 L371.35,237.47 L371.85,238.16 L372.34,238.86 L372.84,239.57 L373.34,240.30 L373.83,241.04 L374.33,241.80 L374.83,242.57 L375.33,243.36 L375.82,244.16 L376.32,244.98 L376.82,245.82 L377.31,246.68 L377.81,247.55 L378.31,248.44 L378.80,249.36 L379.30,250.29 L379.80,251.24 L380.30,252.22 L380.79,253.22 L381.29,254.24 L381.79,255.29 L382.28,256.36 L382.78,257.46 L383.28,258.59 L383.78,259.75 L384.27,260.93 L384.77,262.15 L385.27,263.40 L385.76,264.68 L386.26,266.00 L386.76,267.36 L387.26,268.76 L387.75,270.19 L388.25,271.67 L388.75,273.19 L389.24,274.76 L389.74,276.38" stroke="#0f0" stroke-width="2.85" stroke-dasharray="6.05 8.85 5.9 8.85 5.9 8.85 5.9 8.85 5.9 8.85 5.9 8.85 5.9 8.8 5.9 8.8 5.9 8.8 5.9 8.5 5.9 8.5 5.9 7.9 5.9 7.2 5.9 7.0 5.9 6.3 5.9 6.1 5.9 5.9 5.9 6.3 5.9 7.0 5.9 6.8 5.9 50" stroke-dashoffset="0"/>
</g>
<rect x="156.60" y="15.25" width="250.70" height="249.90" fill="none" stroke="#000" stroke-width="1.15"/>
<path d="M170.5,203.6H207.4" stroke="#00f" stroke-width="2.5" stroke-dasharray="9 4.4 2.7 4.4" fill="none"/>
<path d="M170.5,219.0H207.4" stroke="#f00" stroke-width="2.5" fill="none"/>
<path d="M170.5,234.5H207.4" stroke="#0f0" stroke-width="2.5" stroke-dasharray="6.3 8.75" fill="none"/>
<path d="M170.5,249.9H207.4" stroke="#000" stroke-width="2.3" stroke-dasharray="1.6 4.07" stroke-dashoffset="-0.3" fill="none"/>
<g font-family="'Liberation Serif', serif" font-size="14px" fill="#000" style="will-change:transform">
<text x="213.61" y="209.00" font-size="14px" textLength="41.96" lengthAdjust="spacingAndGlyphs">d-type</text>
<text x="213.62" y="224.40" font-size="14px" textLength="38.18" lengthAdjust="spacingAndGlyphs">f-type</text>
<text x="213.49" y="239.60" font-size="14px" textLength="32.93" lengthAdjust="spacingAndGlyphs">GPM</text>
<text x="214.24" y="255.80" font-size="14px" textLength="26.42" lengthAdjust="spacingAndGlyphs">pos.</text>
<text x="243.80" y="255.80" font-size="14px" textLength="39.86" lengthAdjust="spacingAndGlyphs">bound</text>
<text x="125.84" y="271.55" font-size="14.3px" textLength="15.06" lengthAdjust="spacingAndGlyphs">10</text>
<text x="140.59" y="265.65" font-size="11px" textLength="3.45" lengthAdjust="spacingAndGlyphs">-</text>
<text x="143.78" y="265.65" font-size="11px" textLength="6.22" lengthAdjust="spacingAndGlyphs">3</text>
<text x="125.84" y="229.30" font-size="14.3px" textLength="15.06" lengthAdjust="spacingAndGlyphs">10</text>
<text x="140.59" y="223.40" font-size="11px" textLength="3.45" lengthAdjust="spacingAndGlyphs">-</text>
<text x="143.90" y="223.40" font-size="11px" textLength="6.22" lengthAdjust="spacingAndGlyphs">2</text>
<text x="125.84" y="187.65" font-size="14.3px" textLength="15.06" lengthAdjust="spacingAndGlyphs">10</text>
<text x="140.59" y="181.75" font-size="11px" textLength="3.45" lengthAdjust="spacingAndGlyphs">-</text>
<text x="143.40" y="181.75" font-size="11px" textLength="5.57" lengthAdjust="spacingAndGlyphs">1</text>
<text x="129.68" y="146.15" font-size="14.3px" textLength="14.71" lengthAdjust="spacingAndGlyphs">10</text>
<text x="143.91" y="140.25" font-size="11px" textLength="6.07" lengthAdjust="spacingAndGlyphs">0</text>
<text x="129.68" y="104.05" font-size="14.3px" textLength="14.71" lengthAdjust="spacingAndGlyphs">10</text>
<text x="143.40" y="98.15" font-size="11px" textLength="5.57" lengthAdjust="spacingAndGlyphs">1</text>
<text x="129.68" y="62.75" font-size="14.3px" textLength="14.71" lengthAdjust="spacingAndGlyphs">10</text>
<text x="143.90" y="56.85" font-size="11px" textLength="6.22" lengthAdjust="spacingAndGlyphs">2</text>
<text x="129.68" y="21.25" font-size="14.3px" textLength="14.71" lengthAdjust="spacingAndGlyphs">10</text>
<text x="143.78" y="15.35" font-size="11px" textLength="6.22" lengthAdjust="spacingAndGlyphs">3</text>
<text x="188.24" y="291.25" font-size="14px" textLength="24.71" lengthAdjust="spacingAndGlyphs">0.01</text>
<text x="298.14" y="291.25" font-size="14px" textLength="17.50" lengthAdjust="spacingAndGlyphs">0.1</text>
<text x="278.55" y="320.30" font-size="14px" textLength="7.29" lengthAdjust="spacingAndGlyphs">x</text>
<text x="309.95" y="44.90" font-size="13.6px">|</text>
<text x="315.15" y="45.60" font-size="13px" textLength="4.94" lengthAdjust="spacingAndGlyphs">f</text>
<text x="320.85" y="48.50" font-size="7.9px" textLength="9.24" lengthAdjust="spacingAndGlyphs">1T</text>
<path d="M322.0,39.8H328.1M325.05,39.8V33.5" stroke="#333" stroke-width="0.6" fill="none"/>
<text x="328.86" y="41.10" font-size="9.2px" textLength="18.21" lengthAdjust="spacingAndGlyphs">(1)g</text>
<text x="346.91" y="45.50" font-size="14px" textLength="17.06" lengthAdjust="spacingAndGlyphs">(x)</text>
<text x="366.15" y="44.90" font-size="13.6px">|</text>
<text x="306.25" y="70.55" font-size="14.6px" textLength="11.75" lengthAdjust="spacingAndGlyphs">Q</text>
<text x="317.40" y="65.85" font-size="11.5px" textLength="6.22" lengthAdjust="spacingAndGlyphs">2</text>
<text x="327.31" y="71.45" font-size="14px" textLength="8.88" lengthAdjust="spacingAndGlyphs">=</text>
<text x="338.84" y="70.55" font-size="14.6px" textLength="8.29" lengthAdjust="spacingAndGlyphs">2</text>
<text x="349.84" y="70.55" font-size="14.6px" textLength="26.58" lengthAdjust="spacingAndGlyphs">GeV</text>
<text x="376.10" y="65.85" font-size="11.8px" textLength="6.22" lengthAdjust="spacingAndGlyphs">2</text>
</g>
</svg>
</body></html>
